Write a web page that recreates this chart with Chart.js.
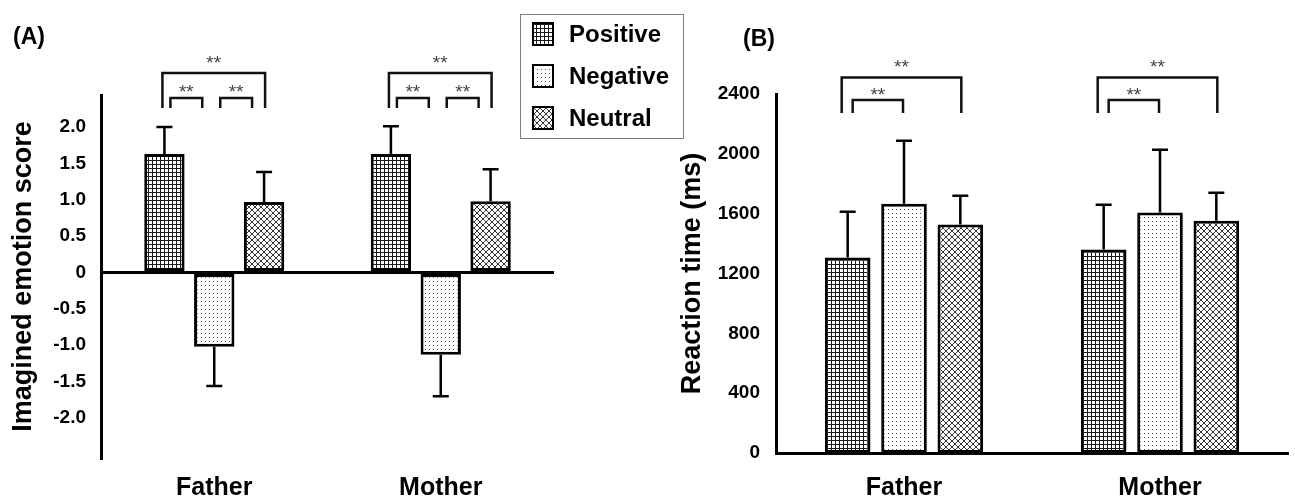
<!DOCTYPE html>
<html><head><meta charset="utf-8">
<script src="https://cdn.jsdelivr.net/npm/chart.js@4.4.1/dist/chart.umd.min.js"></script>
<style>
html,body{margin:0;padding:0;background:#fff;}
#wrap{position:relative;width:1295px;height:499px;overflow:hidden;background:#fff;}
#cA{position:absolute;left:0;top:0;}
#cB{position:absolute;left:655px;top:0;}
</style></head><body>
<div id="wrap"><canvas id="cA" width="690" height="499"></canvas><canvas id="cB" width="640" height="499"></canvas></div>
<script>
// ---------- data ----------
const categories = ['Father', 'Mother'];
const seriesNames = ['Positive', 'Negative', 'Neutral'];
const emotionPositive = [1.63, 1.63];
const emotionNegative = [-1.02, -1.13];
const emotionNeutral = [0.97, 0.98];
const emotionPositiveErr = [0.37, 0.38];
const emotionNegativeErr = [0.54, 0.57];
const emotionNeutralErr = [0.41, 0.44];
const rtPositive = [1307, 1360];
const rtNegative = [1667, 1607];
const rtNeutral = [1527, 1553];
const rtPositiveErr = [306, 300];
const rtNegativeErr = [420, 420];
const rtNeutralErr = [193, 187];
const emotionTicks = [-2, -1.5, -1, -0.5, 0, 0.5, 1, 1.5, 2];
const rtTicks = [0, 400, 800, 1200, 1600, 2000, 2400];
const emotionSig = [[0, 2], [0, 1], [1, 2]];
const rtSig = [[0, 2], [0, 1]];
const sigLabel = '**';

// ---------- styling ----------
const FONT = '"Liberation Sans", Arial, Helvetica, sans-serif';

function makePattern(kind) {
  const c = document.createElement('canvas');
  const g = c.getContext('2d');
  if (kind === 'grid') {
    c.width = 4; c.height = 4;
    g.fillStyle = '#fff'; g.fillRect(0, 0, 4, 4);
    g.fillStyle = '#1a1a1a';
    g.fillRect(0, 0, 4, 1); g.fillRect(0, 0, 1, 4);
  } else if (kind === 'dots') {
    c.width = 4; c.height = 4;
    g.fillStyle = '#fff'; g.fillRect(0, 0, 4, 4);
    g.fillStyle = '#555';
    g.fillRect(1, 1, 1, 1);
  } else {
    c.width = 6; c.height = 6;
    g.fillStyle = '#fff'; g.fillRect(0, 0, 6, 6);
    g.strokeStyle = '#333'; g.lineWidth = 1;
    g.beginPath();
    g.moveTo(-1, -1); g.lineTo(7, 7);
    g.moveTo(7, -1); g.lineTo(-1, 7);
    g.stroke();
  }
  const ref = document.getElementById('cA').getContext('2d');
  return ref.createPattern(c, 'repeat');
}
const fills = [makePattern('grid'), makePattern('dots'), makePattern('cross')];

const errorBars = {
  id: 'errorBars',
  afterDatasetsDraw(chart, args, opts) {
    const ctx = chart.ctx;
    const y = chart.scales.y;
    ctx.save();
    ctx.strokeStyle = '#000';
    ctx.lineWidth = 2.5;
    chart.data.datasets.forEach((ds, i) => {
      const meta = chart.getDatasetMeta(i);
      meta.data.forEach((bar, j) => {
        const v = ds.data[j];
        const e = opts.errors[i][j];
        const end = v >= 0 ? v + e : v - e;
        const y0 = y.getPixelForValue(v);
        const y1 = y.getPixelForValue(end);
        ctx.beginPath();
        ctx.moveTo(bar.x, y0);
        ctx.lineTo(bar.x, y1);
        ctx.moveTo(bar.x - 8, y1);
        ctx.lineTo(bar.x + 8, y1);
        ctx.stroke();
      });
    });
    ctx.restore();
  }
};

const brackets = {
  id: 'brackets',
  afterDraw(chart, args, o) {
    const ctx = chart.ctx;
    const top = chart.chartArea.top;
    ctx.save();
    ctx.strokeStyle = '#111';
    ctx.lineWidth = 2.5;
    ctx.fillStyle = '#444';
    ctx.font = '19px ' + FONT;
    ctx.textAlign = 'center';
    ctx.textBaseline = 'alphabetic';
    for (let c = 0; c < chart.data.labels.length; c++) {
      o.pairs.forEach(([a, b]) => {
        const big = (b - a) > 1;
        const xa = chart.getDatasetMeta(a).data[c].x;
        const xb = chart.getDatasetMeta(b).data[c].x;
        const x1 = xa + (big ? o.bigIn[0] : o.smallIn[0]);
        const x2 = xb + (big ? o.bigIn[1] : o.smallIn[1]);
        const yt = top + (big ? o.bigTop : o.smallTop);
        const yl = top + o.legBottom;
        ctx.beginPath();
        ctx.moveTo(x1, yl); ctx.lineTo(x1, yt); ctx.lineTo(x2, yt); ctx.lineTo(x2, yl);
        ctx.stroke();
        const ys = top + (big ? o.bigStar : o.smallStar);
        ctx.fillText(sigLabel, (x1 + x2) / 2, ys + 11);
      });
    }
    ctx.restore();
  }
};

const panelText = {
  id: 'panelText',
  afterDraw(chart, args, o) {
    const ctx = chart.ctx;
    ctx.save();
    ctx.fillStyle = '#000';
    ctx.font = 'bold 23px ' + FONT;
    ctx.textAlign = 'left';
    ctx.textBaseline = 'middle';
    ctx.fillText(o.text, o.x, o.y);
    if (o.legend) {
      ctx.strokeStyle = '#808080';
      ctx.lineWidth = 1;
      ctx.strokeRect(520.5, 14.5, 163, 124);
      chart.data.datasets.forEach((ds, i) => {
        const cy = 34 + i * 42;
        ctx.fillStyle = ds.backgroundColor;
        ctx.fillRect(533, cy - 11, 20, 22);
        ctx.strokeStyle = '#000';
        ctx.lineWidth = 2;
        ctx.strokeRect(533, cy - 11, 20, 22);
        ctx.fillStyle = '#000';
        ctx.font = 'bold 24px ' + FONT;
        ctx.fillText(ds.label, 569, cy + 1);
      });
    }
    ctx.restore();
  }
};

function buildChart(id, cfg) {
  const datasets = cfg.series.map((d, i) => ({
    label: seriesNames[i],
    data: d,
    backgroundColor: fills[i],
    borderColor: '#000',
    borderWidth: 3,
    borderSkipped: false,
    categoryPercentage: 0.66,
    barPercentage: 0.81
  }));
  return new Chart(document.getElementById(id), {
    type: 'bar',
    data: { labels: categories, datasets },
    plugins: [errorBars, brackets, panelText],
    options: {
      responsive: false,
      animation: false,
      devicePixelRatio: 1,
      layout: { padding: cfg.padding },
      plugins: {
        legend: { display: false },
        tooltip: { enabled: false },
        errorBars: { errors: cfg.errors },
        brackets: cfg.brackets,
        panelText: cfg.panel
      },
      scales: {
        x: {
          grid: { display: false, drawTicks: false },
          border: cfg.xBorder,
          ticks: { color: '#000', padding: cfg.xPad, font: { family: FONT, size: 25, weight: 'bold' } },
          afterFit: s => { s.height = cfg.xHeight; }
        },
        y: {
          min: cfg.min, max: cfg.max,
          grid: cfg.yGrid,
          border: { display: true, color: '#000', width: 3 },
          afterBuildTicks: s => { s.ticks = cfg.ticks.map(v => ({ value: v })); },
          afterFit: s => { s.width = cfg.yWidth; },
          ticks: {
            color: '#000', padding: cfg.yPad,
            font: { family: FONT, size: 19, weight: 'bold' },
            callback: cfg.fmt
          },
          title: {
            display: true, text: cfg.title, color: '#000',
            padding: { top: cfg.titlePad, bottom: 0 },
            font: { family: FONT, size: 27, weight: 'bold' }
          }
        }
      }
    }
  });
}

buildChart('cA', {
  series: [emotionPositive, emotionNegative, emotionNeutral],
  errors: [emotionPositiveErr, emotionNegativeErr, emotionNeutralErr],
  min: -2.55, max: 2.44,
  ticks: emotionTicks,
  fmt: v => (v === 0 ? '0' : v.toFixed(1)),
  title: 'Imagined emotion score',
  titlePad: 7,
  padding: { top: 95, right: 136, left: 0, bottom: 0 },
  yWidth: 101, xHeight: 41, xPad: 15, yPad: 15,
  xBorder: { display: false },
  yGrid: {
    display: true, drawTicks: false, lineWidth: 3,
    color: c => (c.tick && c.tick.value === 0 ? '#000' : 'rgba(0,0,0,0)')
  },
  brackets: { pairs: emotionSig, bigIn: [-2, 1], smallIn: [6, -12], bigTop: -22, smallTop: 3, legBottom: 13, bigStar: -37, smallStar: -8 },
  panel: { text: '(A)', x: 13, y: 38, legend: true }
});

buildChart('cB', {
  series: [rtPositive, rtNegative, rtNeutral],
  errors: [rtPositiveErr, rtNegativeErr, rtNeutralErr],
  min: 0, max: 2400,
  ticks: rtTicks,
  fmt: v => String(v),
  title: 'Reaction time (ms)',
  titlePad: 21,
  padding: { top: 94, right: 7, left: 0, bottom: 0 },
  yWidth: 121, xHeight: 46, xPad: 20, yPad: 16,
  xBorder: { display: true, color: '#000', width: 3 },
  yGrid: { display: false, drawTicks: false },
  brackets: { pairs: rtSig, bigIn: [-6, 1], smallIn: [5, -1], bigTop: -16.5, smallTop: 6, legBottom: 19, bigStar: -32.5, smallStar: -4 },
  panel: { text: '(B)', x: 88, y: 40, legend: false }
});
</script>
</body></html>
